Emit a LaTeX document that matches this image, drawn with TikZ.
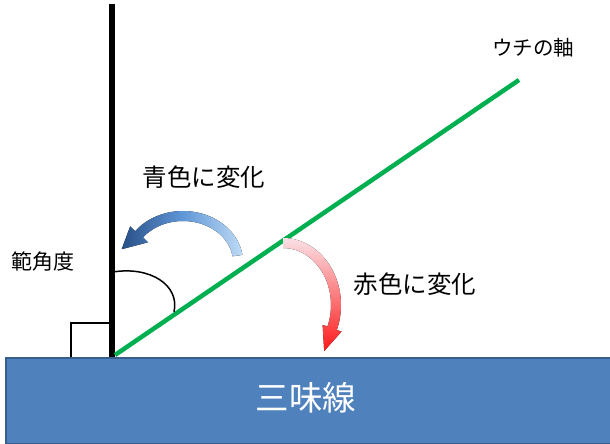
\documentclass[tikz,border=0pt]{standalone}
\usepackage{fontspec}
\setmainfont{Noto Sans CJK JP}
\definecolor{boardfill}{RGB}{79,129,189}
\definecolor{boardline}{RGB}{56,93,138}
\definecolor{axisgreen}{RGB}{0,176,80}
\definecolor{bluedark}{RGB}{40,80,135}
\definecolor{bluemid}{RGB}{95,150,215}
\definecolor{bluelight}{RGB}{190,218,245}
\definecolor{redpale}{RGB}{250,225,230}
\definecolor{redfull}{RGB}{255,25,25}
\tikzset{
  lbl/.style={inner sep=0pt, font=\fontsize{24.5}{28}\selectfont},
  small/.style={inner sep=0pt, font=\fontsize{20.5}{23}\selectfont},
}
\begin{document}
\begin{tikzpicture}[x=1pt,y=-1pt]
\useasboundingbox (0,0) rectangle (610,444);
\begin{scope}
\clip (0,0) rectangle (610,444);
% board
\node[draw=boardline, line width=2pt, fill=boardfill, minimum width=620pt, minimum height=86pt, anchor=north west, inner sep=0pt] (board) at (5,357) {};
\node[text=white, inner sep=0pt, font=\fontsize{33.5}{37}\selectfont] (shamisen) at (306,398) {三味線};
% vertical line
\coordinate (vtop) at (112,4);
\coordinate (vbot) at (112,357);
\draw[line width=5.5pt] (vtop) -- (vbot);
% right angle mark
\coordinate (sq1) at (71,357);
\coordinate (sq2) at (71,323);
\coordinate (sq3) at (112,323);
\draw[line width=1.5pt] (sq1) -- (sq2) -- (sq3);
% green axis
\coordinate (gbot) at (115,355);
\coordinate (gtop) at (519,80);
\draw[axisgreen, line width=4.5pt] (gbot) -- (gtop);
% angle arc
\coordinate (a1) at (113,272);
\coordinate (a2) at (174,312);
\draw[line width=1.5pt] (a1) .. controls (150,266) and (180,285) .. (a2);
% blue arrow
\fill[left color=bluedark, right color=bluelight, middle color=bluemid]
  plot[domain=8:143, samples=40, variable=\t] ({183+60*cos(\t)},{262-51*sin(\t)})
  -- (130.2,226.3) -- (121.7,249.2) -- (148.0,242.3)
  -- plot[domain=143:8, samples=40, variable=\t] ({183+50*cos(\t)},{262-41*sin(\t)})
  -- cycle;
% red arrow
\fill[top color=redpale, bottom color=redfull]
  plot[domain=90:-22, samples=40, variable=\t] ({283+48*cos(\t)},{305-57*sin(\t)})
  -- (322.6,324.9) -- (324.2,351) -- (341.6,331.5)
  -- plot[domain=-22:90, samples=40, variable=\t] ({283+58*cos(\t)},{305-67*sin(\t)})
  -- cycle;
\end{scope}
% labels
\node[small] (axislbl) at (533,48) {ウチの軸};
\node[lbl] (bluelbl) at (204,177) {青色に変化};
\node[lbl] (redlbl) at (415,284) {赤色に変化};
\node[inner sep=0pt, font=\fontsize{21}{24}\selectfont] (rangelbl) at (43.5,262) {範角度};
\end{tikzpicture}
\end{document}
